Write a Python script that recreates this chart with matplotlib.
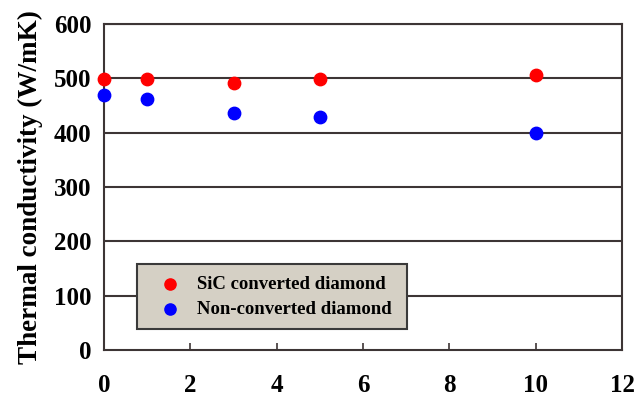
import matplotlib.pyplot as plt

# heat-treatment data, thermal conductivity in W/mK
x_vals = [0, 1, 3, 5, 10]
sic_converted = [498, 498, 491, 498, 506]
non_converted = [470, 462, 436, 428, 400]

xticks = [0, 2, 4, 6, 8, 10, 12]
yticks = [0, 100, 200, 300, 400, 500, 600]

plt.rcParams['font.family'] = ['Liberation Serif', 'DejaVu Serif']
plt.rcParams['font.weight'] = 'bold'

fig = plt.figure(figsize=(6.44, 3.99), dpi=100)
ax = fig.add_axes([0.1615, 0.1228, 0.8045, 0.8172])

gridc = '#3d3535'
for y in yticks[1:]:
    ax.axhline(y, color=gridc, lw=1.5, zorder=1)

ax.scatter(x_vals, sic_converted, s=80, color='#ff0000', zorder=3, label='SiC converted diamond', clip_on=False)
ax.scatter(x_vals, non_converted, s=80, color='#0000ff', zorder=3, label='Non-converted diamond', clip_on=False)

ax.set_xlim(0, 12)
ax.set_ylim(0, 600)
ax.set_xticks(xticks)
ax.set_yticks(yticks)
ax.tick_params(axis='x', direction='in', length=5, width=1.2, color=gridc, pad=17, labelsize=18)
ax.tick_params(axis='y', length=0, pad=9, labelsize=18)
for s in ax.spines.values():
    s.set_color(gridc)
    s.set_linewidth(1.5)

ax.set_ylabel('Thermal conductivity (W/mK)', fontsize=19.5, fontweight='bold', labelpad=8)

leg = ax.legend(loc='upper left', bbox_to_anchor=(0.064, 0.064, 0.521, 0.199), mode='expand',
                borderaxespad=0, fancybox=False, framealpha=1, facecolor='#d5d0c5', edgecolor='#3a3a3a',
                prop={'family': 'Liberation Serif', 'weight': 'bold', 'size': 13.5},
                handletextpad=0.3, borderpad=0.6, labelspacing=0.45, handlelength=2.3,
                markerscale=0.9)
leg.get_frame().set_linewidth(1.5)
leg.set_zorder(2)

fig.savefig('out.png', dpi=100)
